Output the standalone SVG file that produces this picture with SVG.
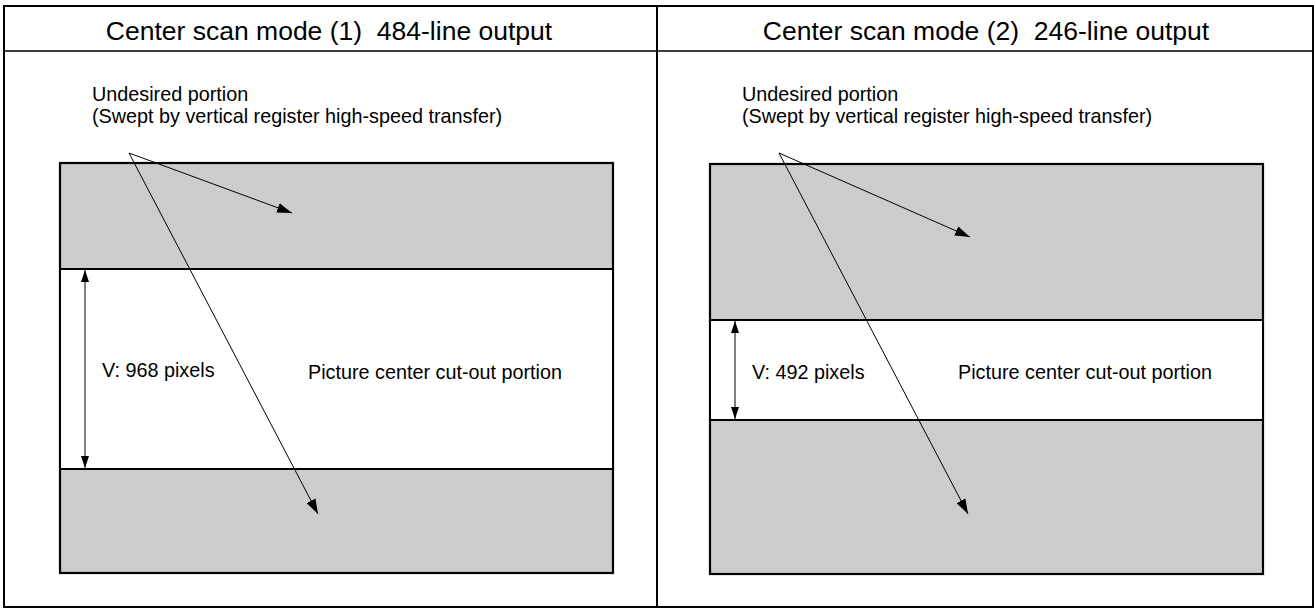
<svg xmlns="http://www.w3.org/2000/svg" width="1314" height="608" viewBox="0 0 1314 608">
<style>
text{font-family:"Liberation Sans",Arial,Helvetica,sans-serif;fill:#000}
.hdr{font-size:26.5px;text-anchor:middle;white-space:pre}
.lbl{font-size:19.8px}
.frame{fill:none;stroke:#000;stroke-width:2}
.gray{fill:#cccccc;stroke:#000;stroke-width:2.2}
.band{fill:#fff;stroke:#000;stroke-width:2}
.con{stroke:#000;stroke-width:1;fill:none}
</style>
<defs>
<marker id="ah" viewBox="0 0 15 10" refX="15" refY="5" markerWidth="15" markerHeight="10" markerUnits="userSpaceOnUse" orient="auto">
<path d="M0,0 L15,5 L0,10 Z" fill="#000"/>
</marker>
<marker id="ahs" viewBox="0 0 12 8" refX="12" refY="4" markerWidth="12" markerHeight="8" markerUnits="userSpaceOnUse" orient="auto-start-reverse">
<path d="M0,0 L12,4 L0,8 Z" fill="#000"/>
</marker>
</defs>
<rect width="1314" height="608" fill="#fff"/>
<g id="frame">
<rect class="frame" x="4" y="6" width="1309" height="601"/>
<line x1="4" y1="51" x2="1313" y2="51" stroke="#000" stroke-width="1.5"/>
<line x1="657" y1="6" x2="657" y2="607" stroke="#000" stroke-width="2"/>
</g>
<g id="panel1">
<text class="hdr" x="329" y="40" xml:space="preserve">Center scan mode (1)  484-line output</text>
<rect class="gray" x="60" y="163" width="553" height="410"/>
<rect class="band" x="60" y="269" width="553" height="200"/>
<text class="lbl" x="92" y="101">Undesired portion</text>
<text class="lbl" x="92" y="123">(Swept by vertical register high-speed transfer)</text>
<text class="lbl" x="102" y="377">V: 968 pixels</text>
<text class="lbl" x="308" y="379">Picture center cut-out portion</text>
</g>
<g id="panel2">
<text class="hdr" x="986" y="40" xml:space="preserve">Center scan mode (2)  246-line output</text>
<rect class="gray" x="710" y="164" width="553" height="410"/>
<rect class="band" x="710" y="320" width="553" height="100"/>
<text class="lbl" x="742" y="101">Undesired portion</text>
<text class="lbl" x="742" y="123">(Swept by vertical register high-speed transfer)</text>
<text class="lbl" x="752" y="379">V: 492 pixels</text>
<text class="lbl" x="958" y="379">Picture center cut-out portion</text>
</g>
<g id="connectors">
<line class="con" x1="129" y1="153" x2="292" y2="213" marker-end="url(#ah)"/>
<line class="con" x1="129" y1="153" x2="318" y2="514" marker-end="url(#ah)"/>
<line class="con" x1="85" y1="270" x2="85" y2="468" marker-start="url(#ahs)" marker-end="url(#ahs)"/>
<line class="con" x1="779" y1="153" x2="970" y2="237" marker-end="url(#ah)"/>
<line class="con" x1="779" y1="153" x2="968" y2="514" marker-end="url(#ah)"/>
<line class="con" x1="735" y1="321" x2="735" y2="419" marker-start="url(#ahs)" marker-end="url(#ahs)"/>
</g>
</svg>
